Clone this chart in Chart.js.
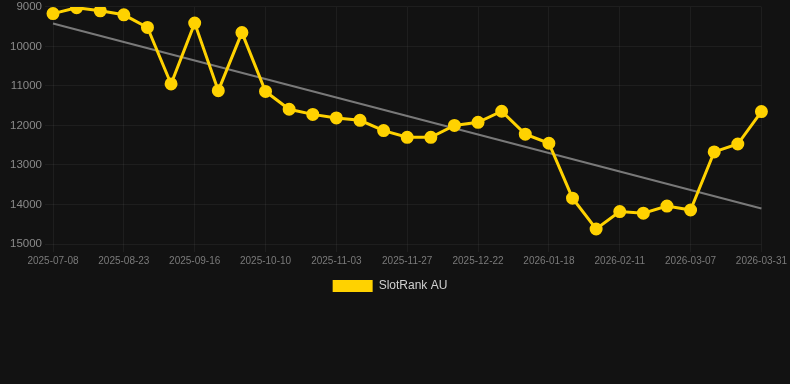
<!DOCTYPE html>
<html>
<head>
<meta charset="utf-8">
<script src="https://cdn.jsdelivr.net/npm/chart.js@4/dist/chart.umd.min.js"></script>
<style>
  html, body { margin: 0; padding: 0; background: #121212; overflow: hidden; }
  #wrap { position: relative; width: 790px; height: 305px; margin-top: -3px; }
</style>
</head>
<body>
<div id="wrap"><canvas id="rankChart"></canvas></div>
<script>
// dates (only every 3rd one is shown on the axis)
const dates = [
  '2025-07-08', '2025-07-24', '2025-08-08', '2025-08-23', '2025-08-31', '2025-09-08',
  '2025-09-16', '2025-09-24', '2025-10-02', '2025-10-10', '2025-10-18', '2025-10-26',
  '2025-11-03', '2025-11-11', '2025-11-19', '2025-11-27', '2025-12-05', '2025-12-13',
  '2025-12-22', '2025-12-31', '2026-01-09', '2026-01-18', '2026-01-26', '2026-02-03',
  '2026-02-11', '2026-02-19', '2026-02-27', '2026-03-07', '2026-03-15', '2026-03-23',
  '2026-03-31'
];

const rankAU = [
  9170, 9020, 9100, 9200, 9520, 10950, 9410, 11120, 9650, 11140,
  11590, 11720, 11810, 11870, 12130, 12300, 12300, 12000, 11920, 11640,
  12220, 12450, 13840, 14620, 14180, 14220, 14040, 14140, 12670, 12470,
  11650
];

// trend line end points
const trendEnds = [9420, 14100];

const yTicks = [9000, 10000, 11000, 12000, 13000, 14000, 15000];

const yellow = '#FFD200';
const gridColor = 'rgba(255,255,255,0.05)';
const fontFam = 'Arial, Helvetica, sans-serif';

new Chart(document.getElementById('rankChart'), {
  type: 'line',
  data: {
    labels: dates,
    datasets: [
      {
        label: 'SlotRank AU',
        data: rankAU,
        borderColor: yellow,
        backgroundColor: yellow,
        borderWidth: 3,
        pointRadius: 5,
        pointHoverRadius: 6,
        pointBackgroundColor: yellow,
        pointBorderColor: yellow,
        tension: 0
      },
      {
        label: 'trend',
        data: [
          { x: dates[0], y: trendEnds[0] },
          { x: dates[dates.length - 1], y: trendEnds[1] }
        ],
        borderColor: 'rgba(140,140,140,0.85)',
        borderWidth: 2,
        pointRadius: 0,
        fill: false
      }
    ]
  },
  options: {
    responsive: true,
    maintainAspectRatio: false,
    animation: false,
    layout: { padding: { left: 0, right: 10, top: 0, bottom: 0 } },
    plugins: {
      legend: {
        position: 'bottom',
        labels: {
          color: '#d0d0d0',
          font: { family: fontFam, size: 12 },
          boxWidth: 40,
          boxHeight: 12,
          generateLabels: chart => {
            const items = Chart.defaults.plugins.legend.labels.generateLabels(chart);
            items.forEach(it => { it.lineWidth = 0; });
            return items.filter(it => it.text !== 'trend');
          }
        }
      },
      tooltip: { enabled: false }
    },
    scales: {
      x: {
        grid: {
          color: ctx => (ctx.index % 3 === 0 ? gridColor : 'rgba(0,0,0,0)')
        },
        border: { display: false },
        ticks: {
          color: '#7a7a7a',
          font: { family: fontFam, size: 10 },
          autoSkip: false,
          maxRotation: 0,
          minRotation: 0,
          callback: function (val, i) {
            return i % 3 === 0 ? this.getLabelForValue(val) : '';
          }
        }
      },
      y: {
        reverse: true,
        min: 9000,
        max: 15000,
        afterBuildTicks: axis => { axis.ticks = yTicks.map(v => ({ value: v })); },
        afterFit: axis => { axis.width = 53; },
        grid: { color: gridColor },
        border: { display: false },
        ticks: {
          color: '#8a8a8a',
          font: { family: fontFam, size: 11.5 },
          callback: v => String(v)
        }
      }
    }
  }
});
</script>
</body>
</html>
